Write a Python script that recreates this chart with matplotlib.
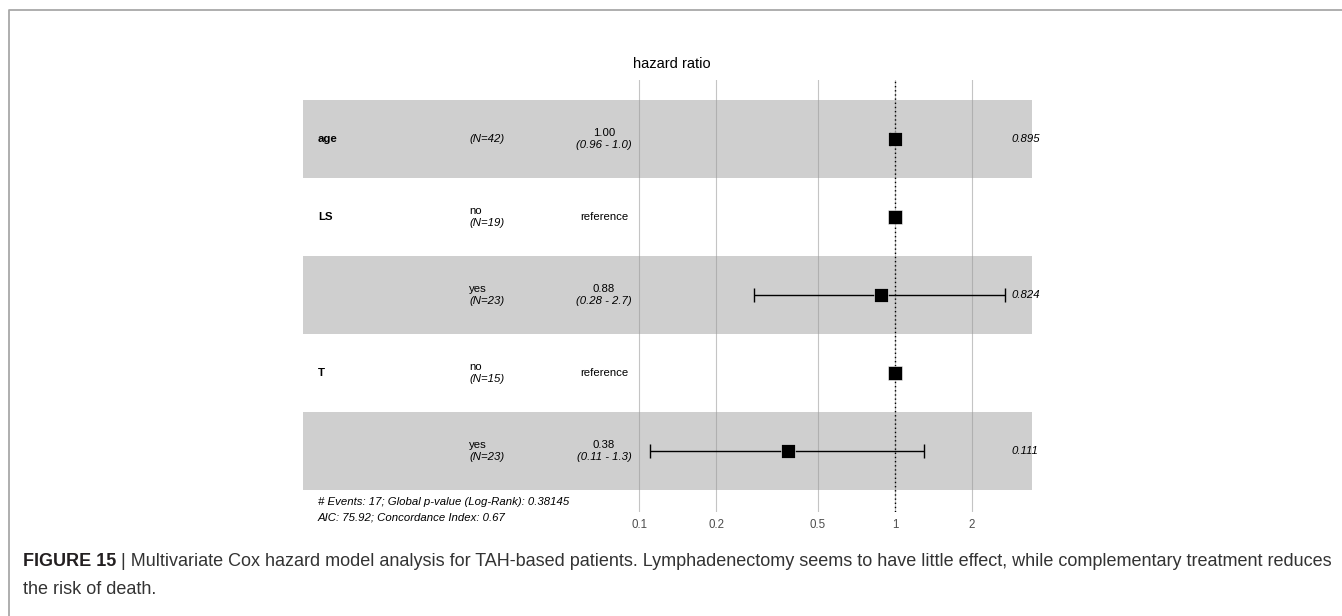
import numpy as np
import matplotlib
matplotlib.use("Agg")
import matplotlib.pyplot as plt
from matplotlib.lines import Line2D
from matplotlib.transforms import blended_transform_factory

plt.rcParams['font.family'] = ['Liberation Sans', 'DejaVu Sans']

# Cox model table
variables = ['age', 'LS', '', 'T', '']
levels = ['', 'no', 'yes', 'no', 'yes']
n_obs = [42, 19, 23, 15, 23]
hr = [1.00, 1.00, 0.88, 1.00, 0.38]
ci_low = [0.96, np.nan, 0.28, np.nan, 0.11]
ci_high = [1.0, np.nan, 2.7, np.nan, 1.3]
ci_low_txt = ['0.96', '', '0.28', '', '0.11']
ci_high_txt = ['1.0', '', '2.7', '', '1.3']
p_values = [0.895, np.nan, 0.824, np.nan, 0.111]
is_reference = [False, True, False, True, False]

ticks = [0.1, 0.2, 0.5, 1, 2]
tick_labels = ['0.1', '0.2', '0.5', '1', '2']
footer = ['# Events: 17; Global p-value (Log-Rank): 0.38145',
          'AIC: 75.92; Concordance Index: 0.67']

W, H = 1342, 616
fig = plt.figure(figsize=(W / 100, H / 100), dpi=100)

# panel box in pixels
x0, x1 = 303, 1032
y_top, y_bot = 80, 512
ax = fig.add_axes([x0 / W, 1 - y_bot / H, (x1 - x0) / W, (y_bot - y_top) / H])

px_per_dec = 255.6
x_one = 895
ax.set_xscale('log')
ax.set_xlim(10 ** ((x0 - x_one) / px_per_dec), 10 ** ((x1 - x_one) / px_per_dec))
row_h = 78
ax.set_ylim(5 + (y_bot - 490) / row_h, -(100 - y_top) / row_h)

for s in ax.spines.values():
    s.set_visible(False)
ax.set_yticks([])
ax.set_xticks(ticks)
ax.set_xticklabels(tick_labels)
ax.xaxis.set_minor_locator(matplotlib.ticker.NullLocator())
ax.tick_params(axis='x', length=0, pad=5, labelsize=8.3, labelcolor='#4d4d4d')

# vertical grid, then translucent bands over it
for t in ticks:
    ax.axvline(t, color='#c4c4c4', lw=0.8, zorder=1)
nrows = len(variables)
for i in range(nrows):
    if i % 2 == 0:
        ax.axhspan(i, i + 1, xmin=0, xmax=1, color='#9c9c9c', alpha=0.48, lw=0, zorder=2)
ax.axvline(1, color='black', lw=1.0, ls=(0, (1, 2)), zorder=3, ymin=-0.01)

yc = np.arange(nrows) + 0.5
# confidence intervals
for i in range(nrows):
    if not is_reference[i]:
        ax.errorbar(hr[i], yc[i], xerr=[[hr[i] - ci_low[i]], [ci_high[i] - hr[i]]],
                    fmt='none', ecolor='black', elinewidth=1.0, capsize=5, capthick=1.0, zorder=4)
ax.plot(hr, yc, 's', color='black', markersize=9.5, markeredgecolor='white',
        markeredgewidth=0.4, zorder=5, ls='none')

tr = blended_transform_factory(ax.transAxes, ax.transData)
fs = 8.2
col_var = (318 - x0) / (x1 - x0)
col_lvl = (469 - x0) / (x1 - x0)
col_hr = (604 - x0) / (x1 - x0)
col_p = (1012 - x0) / (x1 - x0)
dy = 0.074
for i in range(nrows):
    if variables[i]:
        ax.text(col_var, yc[i], variables[i], transform=tr, fontsize=fs,
                fontweight='bold', va='center', ha='left')
    ntxt = '(N=%d)' % n_obs[i]
    if levels[i]:
        ax.text(col_lvl, yc[i] - dy, levels[i], transform=tr, fontsize=fs, va='center', ha='left')
        ax.text(col_lvl, yc[i] + dy, ntxt, transform=tr, fontsize=fs, style='italic',
                va='center', ha='left')
    else:
        ax.text(col_lvl, yc[i], ntxt, transform=tr, fontsize=fs, style='italic',
                va='center', ha='left')
    if is_reference[i]:
        ax.text(col_hr, yc[i], 'reference', transform=tr, fontsize=fs, va='center', ha='center')
    else:
        ax.text(col_hr, yc[i] - dy, '%.2f' % hr[i], transform=tr, fontsize=fs,
                va='center', ha='center')
        ax.text(col_hr, yc[i] + dy, '(%s - %s)' % (ci_low_txt[i], ci_high_txt[i]),
                transform=tr, fontsize=fs, style='italic', va='center', ha='center')
        ax.text(col_p, yc[i], '%.3f' % p_values[i], transform=tr, fontsize=fs,
                style='italic', va='center', ha='left')

for k, line in enumerate(footer):
    fig.text(318 / W, 1 - (502 + 16 * k) / H, line, fontsize=fs, style='italic',
             va='center', ha='left')

fig.text(672 / W, 1 - 64 / H, 'hazard ratio', fontsize=10.5, ha='center', va='center')

# outer frame (top and left only)
fig.add_artist(Line2D([9 / W, 9 / W, 1], [0, 1 - 10 / H, 1 - 10 / H],
                      transform=fig.transFigure, color='#a8a8a8', lw=1.3))

# caption
cap_fs = 13
bold = fig.text(23 / W, 1 - 562 / H, 'FIGURE 15', fontsize=cap_fs, fontweight='bold',
                color='#231f20', va='center', ha='left')
ax.annotate(' | Multivariate Cox hazard model analysis for TAH-based patients. '
            'Lymphadenectomy seems to have little effect, while complementary treatment reduces',
            xy=(1, 0.5), xycoords=bold, va='center', ha='left', fontsize=cap_fs,
            color='#333333', annotation_clip=False)
fig.text(23 / W, 1 - 590 / H, 'the risk of death.', fontsize=cap_fs, color='#333333',
         va='center', ha='left')

fig.savefig('out.png', dpi=100)
